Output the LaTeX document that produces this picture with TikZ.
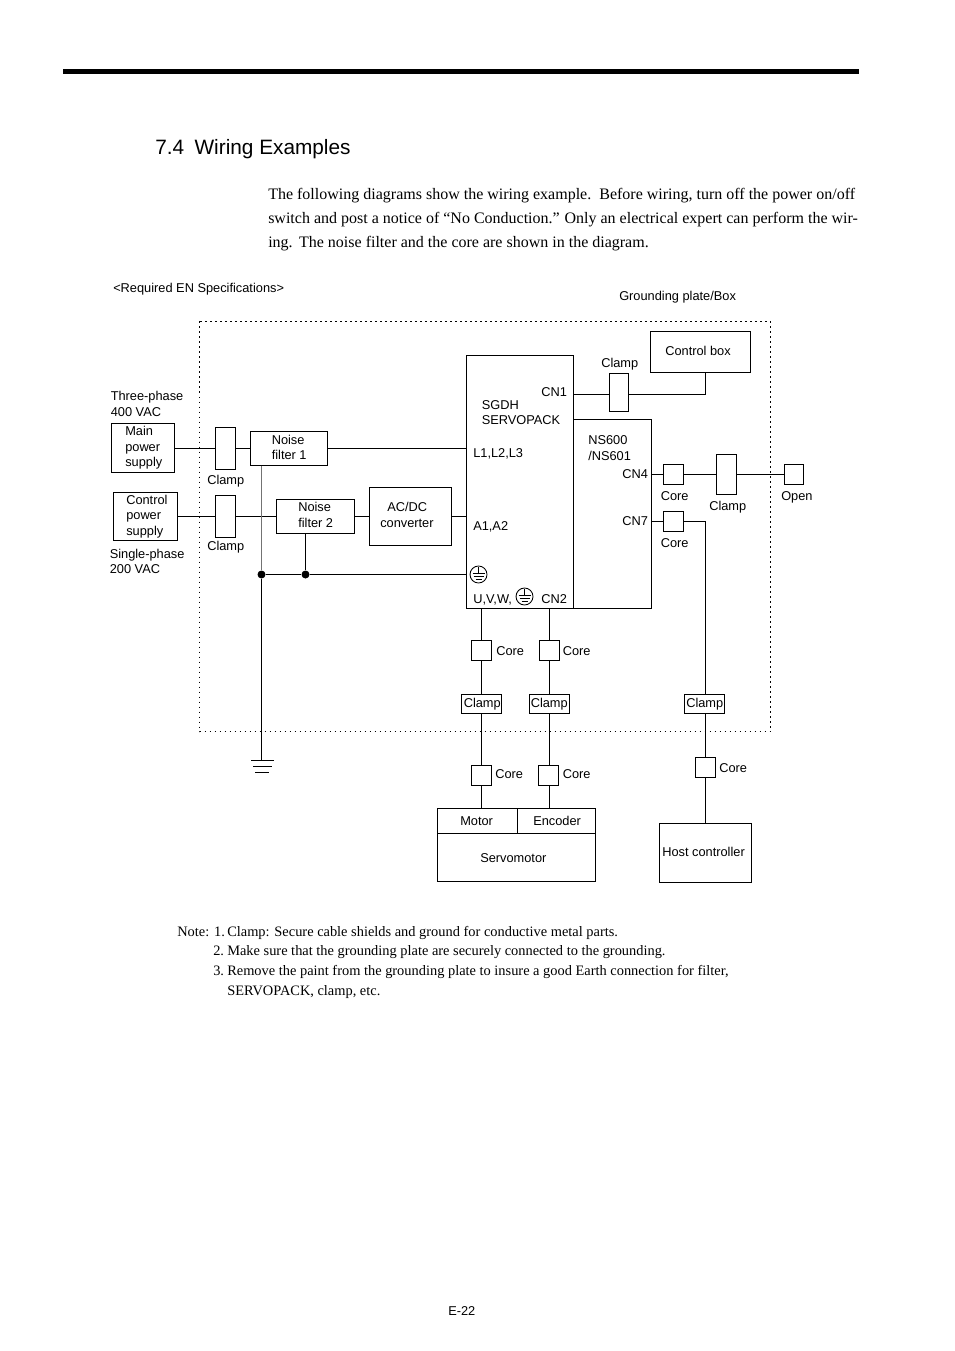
\documentclass[tikz,border=0pt]{standalone}
\usepackage{fontspec}
\setmainfont{Liberation Serif}
\newfontfamily\arial{Liberation Sans}
\tikzset{
  box/.style={draw, line width=0.8pt, fill=white, inner sep=0pt, outer sep=0pt},
  wh/.style 2 args={minimum width=#1*0.75pt, minimum height=#2*0.75pt},
  lab/.style={anchor=base west, inner sep=0pt, font=\arial\fontsize{9.6}{11}\selectfont},
  txt/.style={anchor=base west, inner sep=0pt, font=\fontsize{12}{14}\selectfont},
  note/.style={anchor=base west, inner sep=0pt, font=\fontsize{10.8}{13}\selectfont},
  dot/.style={circle, fill=black, inner sep=0pt, minimum size=6pt},
  wire/.style={line width=0.8pt},
  earth/.pic={
    \draw[line width=0.65pt] (0,0) circle (8.5);
    \draw[line width=0.65pt] (0,-8) -- (0,-1) (-6,-1) -- (6,-1) (-5,2) -- (5,2) (-3,5) -- (3,5);
  }
}
\begin{document}
\begin{tikzpicture}[x=0.75pt,y=-0.75pt]
    \useasboundingbox (0,0) rectangle (954,1351);
    % header
    \draw[line width=3.75pt] (63,71.5) -- (859,71.5);
    \node[anchor=base west, inner sep=0pt, font=\arial\fontsize{15.6}{18}\selectfont] (title) at (155,155) {7.4\hspace{0.5em}Wiring Examples};
    \node[txt] (ta) at (268,200) {The following diagrams show the wiring example.\hspace{0.5em}Before wiring, turn off the power on/off};
    \node[txt] (tb) at (268,224) {switch and post a notice of “No Conduction.”\hspace{0.3em}Only an electrical expert can perform the wir-};
    \node[txt] (tc) at (268,248) {ing.\hspace{0.4em}The noise filter and the core are shown in the diagram.};
    \node[lab] (req) at (113,292.5) {<Required EN Specifications>};
    \node[lab] (plate) at (619,301) {Grounding plate/Box};
    % grounding plate
    \draw[line width=0.8pt, dash pattern=on 0.9pt off 2.85pt] (199.5,321.5) rectangle (770.5,731.5);
    % power side
    \node[box, wh={63}{49}] (main) at (143,448) {};
    \node[box, wh={64}{48}] (ctrl) at (145.5,516.5) {};
    \node[box, wh={20}{42}] (clpa) at (225.5,448.5) {};
    \node[box, wh={20}{42}] (clpb) at (225.5,516.5) {};
    \node[box, wh={77}{34}] (nfa) at (289,448.5) {};
    \node[box, wh={78}{34}] (nfb) at (315.5,516.5) {};
    \node[box, wh={82}{58}] (acdc) at (410.5,516.5) {};
    % servopack
    \node[box, wh={107}{253}] (sgdh) at (520,482) {};
    \node[box, wh={78}{189}] (ns) at (612.5,514) {};
    \node[box, wh={19}{38}] (clpc) at (619,392.5) {};
    \node[box, wh={100}{41}] (cbox) at (700.5,352) {};
    \node[box, wh={20}{20}] (corea) at (673.5,474.5) {};
    \node[box, wh={20}{40}] (clpd) at (726.5,474.5) {};
    \node[box, wh={19}{20}] (opn) at (794,474.5) {};
    \node[box, wh={20}{20}] (coreb) at (673.5,521.5) {};
    % lower side
    \node[box, wh={20}{20}] (corec) at (481.5,650.5) {};
    \node[box, wh={20}{20}] (cored) at (549.5,650.5) {};
    \node[box, wh={40}{19}] (clpe) at (481.5,704) {};
    \node[box, wh={40}{19}] (clpf) at (549.5,704) {};
    \node[box, wh={40}{19}] (clpg) at (704.5,704) {};
    \node[box, wh={20}{20}] (coree) at (481.5,775.5) {};
    \node[box, wh={20}{20}] (coref) at (548.5,775.5) {};
    \node[box, wh={20}{20}] (coreg) at (705.5,767.5) {};
    \node[box, wh={80}{25}] (mot) at (477.5,821) {};
    \node[box, wh={78}{25}] (enc) at (556.5,821) {};
    \node[box, wh={158}{48}] (srv) at (516.5,857.5) {};
    \node[box, wh={92}{59}] (host) at (705.5,853) {};
    % junction
    \node[dot] (ja) at (261.5,574.5) {};
    \node[dot] (jb) at (305.5,574.5) {};
    \coordinate (gnd) at (261.5,760.5);
    \coordinate (pe) at (466.5,574.5);
    \coordinate (la) at (466.5,448.5);
    \coordinate (ac) at (466.5,516.5);
    \coordinate (cna) at (573.5,394.5);
    \coordinate (cnb) at (705.5,394.5);
    \coordinate (cnd) at (651.5,474.5);
    \coordinate (cnf) at (651.5,521.5);
    \coordinate (cng) at (705.5,521.5);
    \coordinate (uvw) at (481.5,608.5);
    \coordinate (cnc) at (549.5,608.5);
    % line
    \draw[wire] (main.east |- clpa) -- (clpa) -- (nfa) -- (la);
    \draw[wire] (ctrl) -- (clpb) -- (nfb) -- (acdc) -- (ac);
    \draw[line width=0.8pt, black!55] (nfa.south -| ja) -- (ja);
    \draw[wire] (nfb.south -| jb) -- (jb);
    \draw[wire] (ja) -- (gnd);
    \draw[wire] (ja) -- (jb) -- (pe);
    \draw[wire] (cna) -- (clpc.west |- cna);
    \draw[wire] (clpc.east |- cna) -- (cnb) -- (cnb |- cbox.south);
    \draw[wire] (cnd) -- (corea) -- (clpd) -- (opn);
    \draw[wire] (cnf) -- (coreb) -- (cng) -- (cng |- clpg.north);
    \draw[wire] (cng |- clpg.south) -- (coreg) -- (coreg |- host.north);
    \draw[wire] (uvw) -- (corec) -- (clpe) -- (coree) -- (coree |- mot.north);
    \draw[wire] (cnc) -- (cored) -- (clpf) -- (cnc |- coref.north);
    \draw[wire] (cnc |- coref.south) -- (cnc |- enc.north);
    % earth
    \draw[wire] (gnd) ++(-10.5,0) -- ++(23,0);
    \draw[wire] (gnd) ++(-8.5,6) -- ++(19,0);
    \draw[wire] (gnd) ++(-6.5,12) -- ++(14,0);
    \pic at (478.5,574.5) {earth};
    \pic at (524.5,596.5) {earth};
    % labels
    \node[lab] (tp) at (110.5,400) {Three-phase};
    \node[lab] (tv) at (110.5,416) {400 VAC};
    \node[lab] (ma) at (125,435) {Main};
    \node[lab] (mb) at (125,451) {power};
    \node[lab] (mc) at (125,466) {supply};
    \node[lab] (ca) at (126,504) {Control};
    \node[lab] (cb) at (126,519) {power};
    \node[lab] (cc) at (126,535) {supply};
    \node[lab] (sp) at (109.5,558) {Single-phase};
    \node[lab] (sv) at (109.5,573) {200 VAC};
    \node[lab] (la1) at (207,484) {Clamp};
    \node[lab] (la2) at (207,550) {Clamp};
    \node[lab] (na) at (271.5,444) {Noise};
    \node[lab] (nb) at (271.5,459) {filter 1};
    \node[lab] (nc) at (298,511) {Noise};
    \node[lab] (nd) at (298,527) {filter 2};
    \node[lab] (aa) at (387,511) {AC/DC};
    \node[lab] (ab) at (380,527) {converter};
    \node[lab] (sa) at (481.5,409) {SGDH};
    \node[lab] (sb) at (481.5,424) {SERVOPACK};
    \node[lab] (ta1) at (541,396.5) {CN1};
    \node[lab] (ta2) at (473,457) {L1,L2,L3};
    \node[lab] (ta3) at (473,530) {A1,A2};
    \node[lab] (ta4) at (473,603.5) {U,V,W,};
    \node[lab] (ta5) at (541,603.5) {CN2};
    \node[lab] (nsa) at (588,444.5) {NS600};
    \node[lab] (nsb) at (588,460) {/NS601};
    \node[lab] (c4) at (622,478) {CN4};
    \node[lab] (c7) at (622,525) {CN7};
    \node[lab] (la3) at (601,367.5) {Clamp};
    \node[lab] (cbl) at (665,355.5) {Control box};
    \node[lab] (co1) at (660.5,500) {Core};
    \node[lab] (co2) at (660.5,547) {Core};
    \node[lab] (la4) at (709,510) {Clamp};
    \node[lab] (opl) at (781,500) {Open};
    \node[lab] (co3) at (496,655) {Core};
    \node[lab] (co4) at (562.5,655) {Core};
    \node[lab] (la5) at (463.5,707) {Clamp};
    \node[lab] (la6) at (530.5,707) {Clamp};
    \node[lab] (la7) at (686,707) {Clamp};
    \node[lab] (co5) at (495,778) {Core};
    \node[lab] (co6) at (562.5,778) {Core};
    \node[lab] (co7) at (719,772) {Core};
    \node[lab] (mo) at (460,825) {Motor};
    \node[lab] (en) at (533,825) {Encoder};
    \node[lab] (sr) at (480,862) {Servomotor};
    \node[lab] (ho) at (662,856) {Host controller};
    % notes
    \node[note] (n0) at (177,936) {Note: 1.};
    \node[note] (n1) at (227,936) {Clamp: Secure cable shields and ground for conductive metal parts.};
    \node[note] (n2) at (213,955) {2.};
    \node[note] (n3) at (227,955) {Make sure that the grounding plate are securely connected to the grounding.};
    \node[note] (n4) at (213,975) {3.};
    \node[note] (n5) at (227,975) {Remove the paint from the grounding plate to insure a good Earth connection for filter,};
    \node[note] (n6) at (227,995) {SERVOPACK, clamp, etc.};
    \node[lab] (pg) at (448,1315) {E-22};
\end{tikzpicture}
\end{document}
